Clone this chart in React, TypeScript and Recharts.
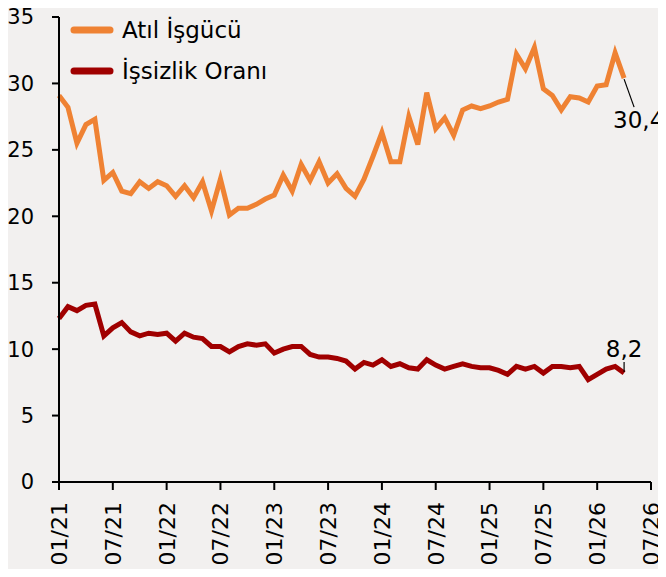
import { LineChart, Line, XAxis, YAxis } from 'recharts';

const months = [
  '01/21', '02/21', '03/21', '04/21', '05/21', '06/21', '07/21', '08/21', '09/21', '10/21', '11/21', '12/21',
  '01/22', '02/22', '03/22', '04/22', '05/22', '06/22', '07/22', '08/22', '09/22', '10/22', '11/22', '12/22',
  '01/23', '02/23', '03/23', '04/23', '05/23', '06/23', '07/23', '08/23', '09/23', '10/23', '11/23', '12/23',
  '01/24', '02/24', '03/24', '04/24', '05/24', '06/24', '07/24', '08/24', '09/24', '10/24', '11/24', '12/24',
  '01/25', '02/25', '03/25', '04/25', '05/25', '06/25', '07/25', '08/25', '09/25', '10/25', '11/25', '12/25',
  '01/26', '02/26', '03/26', '04/26',
];

const atilIsgucu = [
  29.1, 28.2, 25.5, 26.9, 27.3, 22.7, 23.3, 21.9, 21.7, 22.6, 22.1, 22.6,
  22.3, 21.5, 22.3, 21.4, 22.6, 20.4, 22.8, 20.1, 20.6, 20.6, 20.9, 21.3,
  21.6, 23.1, 21.9, 23.9, 22.7, 24.1, 22.5, 23.2, 22.1, 21.5, 22.8, 24.5,
  26.3, 24.1, 24.1, 27.5, 25.4, 29.3, 26.6, 27.4, 26.1, 28.0, 28.3, 28.1,
  28.3, 28.6, 28.8, 32.2, 31.1, 32.7, 29.6, 29.1, 28.0, 29.0, 28.9, 28.6,
  29.8, 29.9, 32.3, 30.4,
];

const issizlikOrani = [
  12.3, 13.2, 12.9, 13.3, 13.4, 11.0, 11.6, 12.0, 11.3, 11.0, 11.2, 11.1,
  11.2, 10.6, 11.2, 10.9, 10.8, 10.2, 10.2, 9.8, 10.2, 10.4, 10.3, 10.4,
  9.7, 10.0, 10.2, 10.2, 9.6, 9.4, 9.4, 9.3, 9.1, 8.5, 9.0, 8.8,
  9.2, 8.7, 8.9, 8.6, 8.5, 9.2, 8.8, 8.5, 8.7, 8.9, 8.7, 8.6,
  8.6, 8.4, 8.1, 8.7, 8.5, 8.7, 8.2, 8.7, 8.7, 8.6, 8.7, 7.7,
  8.1, 8.5, 8.7, 8.2,
];

const xTickLabels = ['01/21', '07/21', '01/22', '07/22', '01/23', '07/23', '01/24', '07/24', '01/25', '07/25', '01/26', '07/26'];
const yTicks = [0, 5, 10, 15, 20, 25, 30, 35];

const ORANGE = '#ef8233';
const RED = '#a00000';
const FONT = '"DejaVu Sans", sans-serif';

const data = months.map((m, i) => ({
  t: i,
  month: m,
  atil: atilIsgucu[i],
  issizlik: issizlikOrani[i],
}));

const last = data.length - 1;
const fmt = (v: number) => v.toFixed(1).replace('.', ',');

const XTick = (props: any) => {
  const { x, y, index } = props;
  return (
    <g transform={`translate(${x},${y})`}>
      <text
        transform="rotate(-90)"
        textAnchor="end"
        dy="0.36em"
        fontSize={22}
        fontFamily={FONT}
        fill="#000"
      >
        {xTickLabels[index]}
      </text>
    </g>
  );
};

const AtilLabel = (props: any) => {
  const { x, y, index, value } = props;
  if (index !== last) return null;
  return (
    <g>
      <line x1={x} y1={y + 1} x2={x + 10} y2={y + 29} stroke="#000" strokeWidth={1.2} />
      <text x={x - 11} y={y + 50} fontSize={23} fontFamily={FONT} fill="#000">
        {fmt(value)}
      </text>
    </g>
  );
};

const IssizlikLabel = (props: any) => {
  const { x, y, index, value } = props;
  if (index !== last) return null;
  return (
    <g>
      <line x1={x} y1={y - 1} x2={x} y2={y - 11} stroke="#000" strokeWidth={1.2} />
      <text x={x} y={y - 16} textAnchor="middle" fontSize={23} fontFamily={FONT} fill="#000">
        {fmt(value)}
      </text>
    </g>
  );
};

const legendItems = [
  { name: 'Atıl İşgücü', color: ORANGE },
  { name: 'İşsizlik Oranı', color: RED },
];

export default function App() {
  return (
    <div style={{ margin: -8, width: 666, height: 577, background: '#f2f0ef', position: 'relative' }}>
      <LineChart
        width={666}
        height={577}
        data={data}
        margin={{ top: 17, right: 15, bottom: 0, left: 0 }}
      >
        <XAxis
          type="number"
          dataKey="t"
          domain={[0, 66]}
          ticks={[0, 6, 12, 18, 24, 30, 36, 42, 48, 54, 60, 66]}
          interval={0}
          height={95}
          tickSize={8}
          tickMargin={12}
          tick={<XTick />}
          axisLine={{ stroke: '#000', strokeWidth: 2 }}
          tickLine={{ stroke: '#000', strokeWidth: 2 }}
        />
        <YAxis
          domain={[0, 35]}
          ticks={yTicks}
          interval={0}
          width={59}
          tickSize={7}
          tickMargin={18}
          tick={{ fontSize: 21, fontFamily: FONT, fill: '#000' }}
          axisLine={{ stroke: '#000', strokeWidth: 2 }}
          tickLine={{ stroke: '#000', strokeWidth: 2 }}
        />
        <Line
          type="linear"
          dataKey="atil"
          name="Atıl İşgücü"
          stroke={ORANGE}
          strokeWidth={5}
          dot={false}
          isAnimationActive={false}
          label={<AtilLabel />}
        />
        <Line
          type="linear"
          dataKey="issizlik"
          name="İşsizlik Oranı"
          stroke={RED}
          strokeWidth={5}
          dot={false}
          isAnimationActive={false}
          label={<IssizlikLabel />}
        />
      </LineChart>
      <div
        style={{
          position: 'absolute',
          left: 70,
          top: 9,
          fontFamily: FONT,
          fontSize: 23,
          color: '#000',
        }}
      >
        {legendItems.map((it) => (
          <div key={it.name} style={{ display: 'flex', alignItems: 'center', height: 41 }}>
            <svg width={52} height={10}>
              <line x1={4} y1={5} x2={40} y2={5} stroke={it.color} strokeWidth={7} strokeLinecap="round" />
            </svg>
            <span>{it.name}</span>
          </div>
        ))}
      </div>
    </div>
  );
}
